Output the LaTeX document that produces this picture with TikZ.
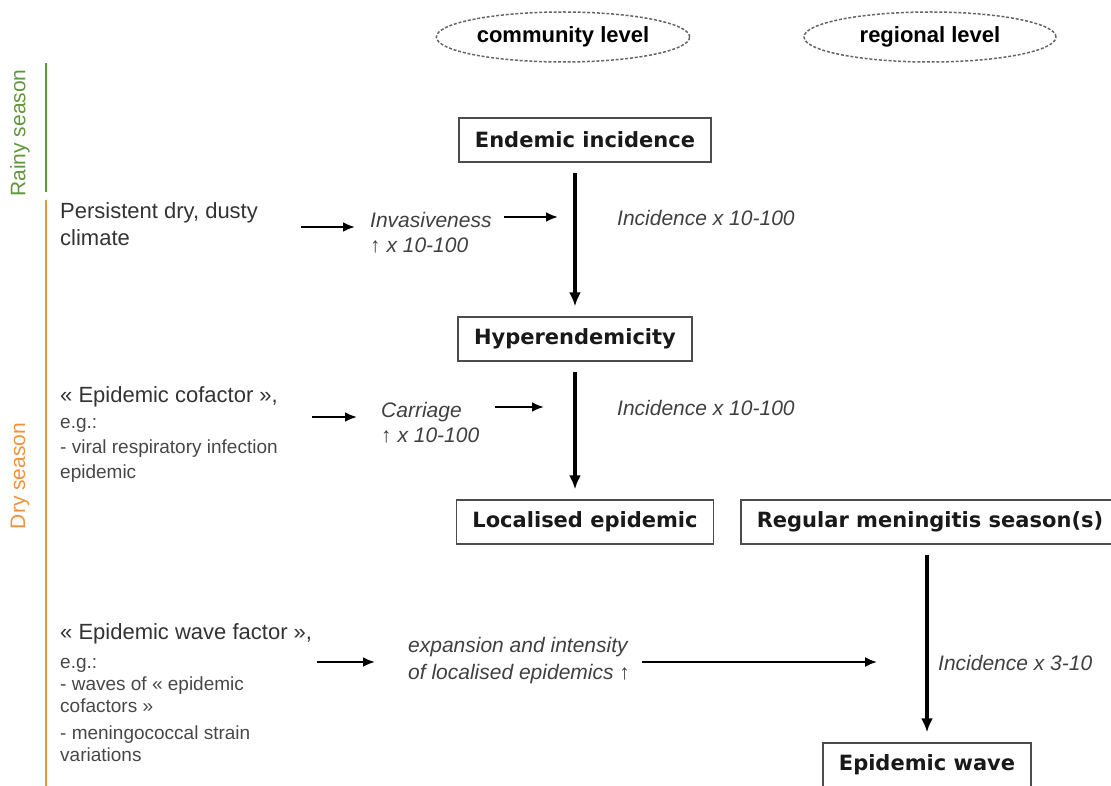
\documentclass[tikz,border=0pt]{standalone}
\usepackage{fontspec}
\setmainfont{Liberation Sans}
\newfontfamily\boxfont{DejaVu Sans}
\usetikzlibrary{positioning,shapes,arrows.meta}
\definecolor{rainygreen}{RGB}{96,150,60}
\definecolor{dryorange}{RGB}{240,146,60}
\newcommand\subsize{\fontsize{19}{22}\selectfont\color{black!72}}

\begin{document}
\begin{tikzpicture}[x=1pt, y=-1pt]
    % Define styles
    \tikzset{level/.style={draw=black!60, dash pattern=on 3pt off 1.8pt, line width=1.5pt, ellipse, minimum width=252, minimum height=50, font=\fontsize{22}{24}\selectfont\bfseries}}
    \tikzset{stage/.style={draw=black!70, line width=1.4pt, minimum height=44, inner xsep=16, text=black!90, font=\boxfont\bfseries\fontsize{21}{24}\selectfont}}
    \tikzset{factor/.style={anchor=north west, inner sep=0, align=left, text=black!80}}
    \tikzset{effect/.style={anchor=north west, inner sep=0, align=left, text=black!75, font=\itshape\fontsize{21}{25}\selectfont}}
    \tikzset{rate/.style={anchor=west, inner sep=0, text=black!75, font=\itshape\fontsize{21}{25}\selectfont}}
    \tikzset{season/.style={rotate=90, font=\fontsize{21}{24}\selectfont}}
    \tikzset{flow/.style={-{Latex[length=12pt, width=10pt]}, line width=2.4pt}}
    \tikzset{main flow/.style={-{Latex[length=14pt, width=12pt]}, line width=3.2pt, shorten <=10, shorten >=10}}

    \clip (0,0) rectangle (1111,786);

    % Draw seasons
    \draw[rainygreen, line width=2pt] (46,63) -- (46,192);
    \draw[dryorange, line width=2pt] (46,200) -- (46,786);
    \node[season, text=rainygreen] (rainy) at (20,133) {Rainy season};
    \node[season, text=dryorange] (drylabel) at (20,476) {Dry season};

    % Draw levels
    \node[level] (community) at (563,37) {community level};
    \node[level] (regional) at (930,37) {regional level};

    % Draw stages
    \node[stage] (endemic) at (585,140) {Endemic incidence};
    \node[stage] (hyper) at (575,339) {Hyperendemicity};
    \node[stage] (localised) at (585,522) {Localised epidemic};
    \node[stage] (regular) at (930,522) {Regular meningitis season(s)};
    \node[stage] (wave) at (927,765) {Epidemic wave};

    % Draw factors
    \node[factor, font=\fontsize{22}{27}\selectfont] (climate) at (60,202) {Persistent dry, dusty\\climate};
    \node[factor, font=\fontsize{22}{25}\selectfont] (cofactor) at (60,386) {« Epidemic cofactor »,\\[1pt] {\subsize e.g.:}\\ {\subsize - viral respiratory infection}\\ {\subsize epidemic}};
    \node[factor, font=\fontsize{22}{22}\selectfont] (wavefactor) at (60,623) {« Epidemic wave factor »,\\[7pt] {\subsize e.g.:}\\ {\subsize - waves of « epidemic}\\ {\subsize cofactors »}\\[5pt] {\subsize - meningococcal strain}\\ {\subsize variations}};

    % Draw effects
    \node[effect] (invasive) at (370,212) {Invasiveness\\↑ x 10-100};
    \node[effect] (carriage) at (381,402) {Carriage\\↑ x 10-100};
    \node[effect, font=\itshape\fontsize{21}{27}\selectfont] (expansion) at (408,637) {expansion and intensity\\of localised epidemics ↑};
    \node[rate] (rate1) at (617,218) {Incidence x 10-100};
    \node[rate] (rate2) at (617,408) {Incidence x 10-100};
    \node[rate] (rate3) at (938,663) {Incidence x 3-10};
    \coordinate (waveIn) at (877,662);

    % Connect stages
    \draw[main flow] (hyper |- endemic.south) -- (hyper.north);
    \draw[main flow] (hyper.south) -- (hyper |- localised.north);
    \draw[main flow] (wave |- regular.south) -- (wave.north);

    % Connect factors to effects
    \draw[flow, shorten <=43, shorten >=15] ([yshift=-15]invasive.north west -| climate.east) -- ([yshift=-15]invasive.north west);
    \draw[flow, shorten <=12, shorten >=17] ([yshift=-5]invasive.north east) -- ([yshift=-5]invasive.north east -| hyper);
    \draw[flow, shorten <=34, shorten >=24] ([yshift=-15]carriage.north west -| cofactor.east) -- ([yshift=-15]carriage.north west);
    \draw[flow, shorten <=16, shorten >=31] ([yshift=-5]carriage.north east) -- ([yshift=-5]carriage.north east -| hyper);
    \draw[flow, shorten <=5, shorten >=33] ([yshift=-25]expansion.north west -| wavefactor.east) -- ([yshift=-25]expansion.north west);
    \draw[flow, line width=2pt, shorten <=12] (expansion.east |- waveIn) -- (waveIn);
\end{tikzpicture}
\end{document}
